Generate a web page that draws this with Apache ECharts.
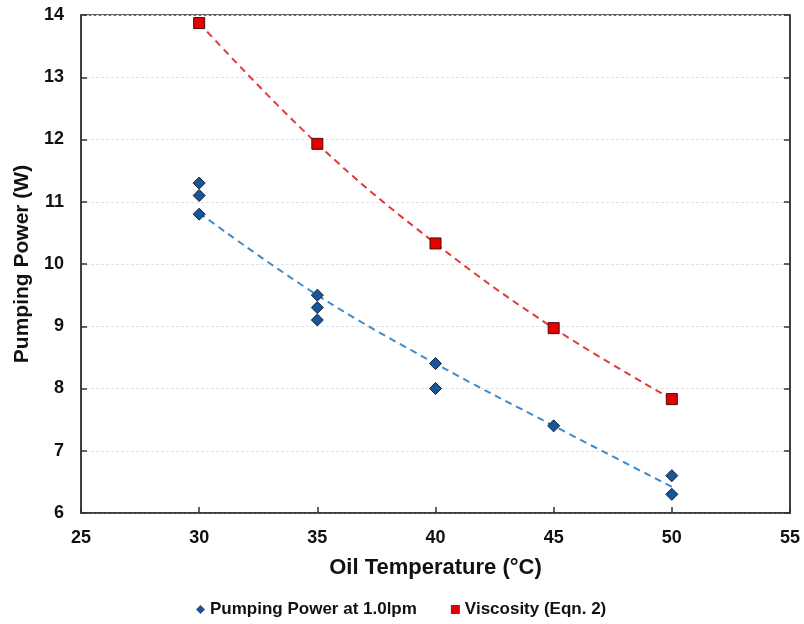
<!DOCTYPE html>
<html><head><meta charset="utf-8">
<script src="https://cdn.jsdelivr.net/npm/echarts@6/dist/echarts.min.js"></script>
<style>html,body{margin:0;padding:0;background:#fff}#c{width:804px;height:624px}</style>
</head><body><div id="c"></div>
<script>
const pumpX = [30, 30, 30, 35, 35, 35, 40, 40, 45, 50, 50];
const pumpY = [11.3, 11.1, 10.8, 9.5, 9.3, 9.1, 8.4, 8.0, 7.4, 6.6, 6.3];
const viscX = [30, 35, 40, 45, 50];
const viscY = [13.87, 11.93, 10.33, 8.97, 7.83];
const pumpTrendX = [30, 35, 40, 45, 50];
const pumpTrendY = [10.82, 9.5, 8.4, 7.4, 6.42];
const viscTrendX = [30, 35, 40, 45, 50];
const viscTrendY = [13.87, 11.93, 10.33, 8.97, 7.83];
const pumpName = 'Pumping Power at 1.0lpm';
const viscName = 'Viscosity (Eqn. 2)';

const zip = (xs, ys) => xs.map((x, i) => [x, ys[i]]);
const FONT = 'Liberation Sans';
const chart = echarts.init(document.getElementById('c'), null, {renderer: 'canvas'});
chart.setOption({
  animation: false,
  textStyle: {fontFamily: FONT},
  grid: {left: 81, right: 14, top: 15, bottom: 111, show: true, borderColor: '#333', borderWidth: 1.5},
  legend: {
    top: 596, left: 191, itemGap: 34, itemWidth: 9, itemHeight: 9,
    textStyle: {fontFamily: FONT, fontWeight: 'bold', fontSize: 17, color: '#111'},
    data: [{name: pumpName, icon: 'diamond', itemStyle: {color: '#1a5596', borderWidth: 0}},
           {name: viscName, icon: 'rect', itemStyle: {color: '#e00000', borderWidth: 0}}]
  },
  xAxis: {
    type: 'value', min: 25, max: 55, interval: 5,
    name: 'Oil Temperature (°C)', nameLocation: 'middle', nameGap: 44,
    nameTextStyle: {fontFamily: FONT, fontWeight: 'bold', fontSize: 22, color: '#111'},
    axisLine: {show: true, onZero: false, lineStyle: {color: '#333', width: 1.5}},
    axisTick: {show: true, inside: true, length: 6, lineStyle: {color: '#333', width: 1.5}},
    axisLabel: {fontFamily: FONT, fontWeight: 'bold', fontSize: 18, color: '#111', margin: 16},
    splitLine: {show: false}
  },
  yAxis: [{
    type: 'value', min: 6, max: 14, interval: 1,
    name: 'Pumping Power (W)', nameLocation: 'middle', nameGap: 46,
    nameTextStyle: {fontFamily: FONT, fontWeight: 'bold', fontSize: 21, color: '#111'},
    axisLine: {show: true, onZero: false, lineStyle: {color: '#333', width: 1.5}},
    axisTick: {show: true, inside: true, length: 6, lineStyle: {color: '#333', width: 1.5}},
    axisLabel: {fontFamily: FONT, fontWeight: 'bold', fontSize: 18, color: '#111', margin: 17},
    splitLine: {show: true, lineStyle: {color: '#e2e2e2', type: [3, 2], width: 1}}
  }, {
    type: 'value', min: 6, max: 14, interval: 1, position: 'right',
    axisLine: {show: true, onZero: false, lineStyle: {color: '#333', width: 1.5}},
    axisTick: {show: true, inside: true, length: 6, lineStyle: {color: '#333', width: 1.5}},
    axisLabel: {show: false}, splitLine: {show: false}
  }],
  series: [
    {type: 'line', data: zip(pumpTrendX, pumpTrendY), smooth: 0.4, symbol: 'none', silent: true, z: 1,
     lineStyle: {color: '#3b8ccf', width: 2, type: [7, 5]}},
    {type: 'line', data: zip(viscTrendX, viscTrendY), smooth: 0.4, symbol: 'none', silent: true, z: 1,
     lineStyle: {color: '#e03a3a', width: 2, type: [7, 5]}},
    {name: pumpName, type: 'scatter', data: zip(pumpX, pumpY), symbol: 'diamond', symbolSize: 12, z: 3,
     itemStyle: {color: '#1a5596', borderColor: '#0b2240', borderWidth: 1, opacity: 1}},
    {name: viscName, type: 'scatter', data: zip(viscX, viscY), symbol: 'rect', symbolSize: 11, z: 3,
     itemStyle: {color: '#e60000', borderColor: '#4a0a0a', borderWidth: 1, opacity: 1}}
  ]
});
</script></body></html>
